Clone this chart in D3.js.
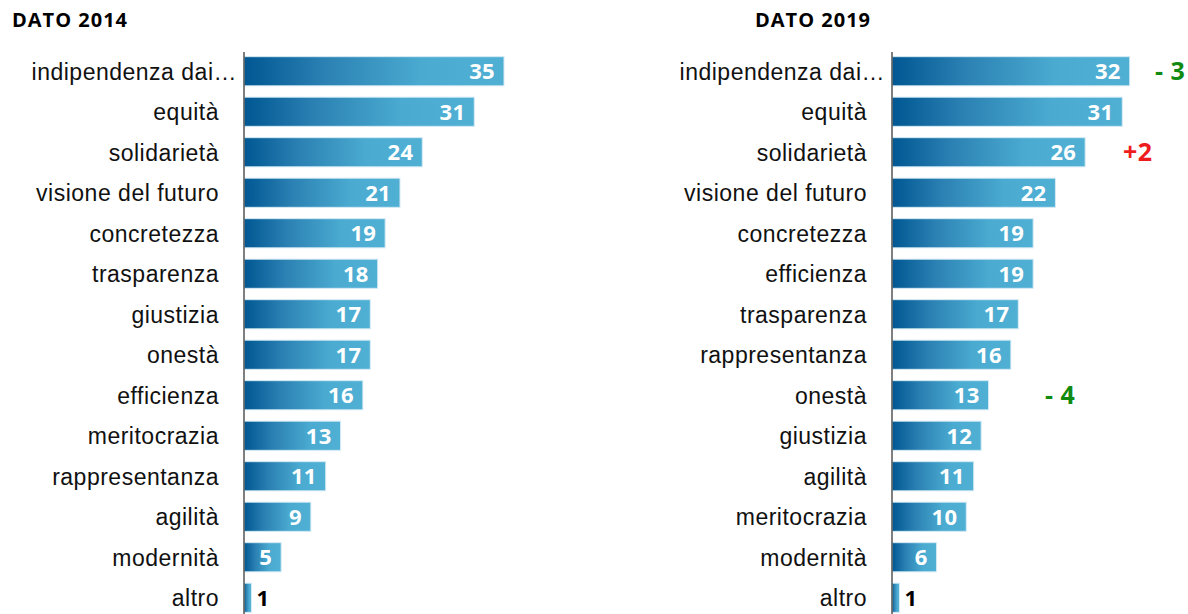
<!DOCTYPE html>
<html>
<head>
<meta charset="utf-8">
<script src="https://cdn.jsdelivr.net/npm/d3@7"></script>
<style>
  body { margin: 0; background: #fff; }
  svg { display: block; font-family: "Open Sans", Lato, sans-serif; }
  .title { font-weight: bold; font-size: 20px; letter-spacing: 1px; fill: #000; }
  .axis text { font-size: 23px; letter-spacing: 0.5px; fill: #111; }
  .axis path { stroke: #555; stroke-width: 1.5; }
  .value { font-weight: bold; font-size: 22px; letter-spacing: 0.3px; }
  .delta { font-weight: bold; font-size: 25px; letter-spacing: 0.5px; }
</style>
</head>
<body>
<div id="vis"></div>
<script>
// data
var labels2014 = ['indipendenza dai…', 'equità', 'solidarietà', 'visione del futuro', 'concretezza',
  'trasparenza', 'giustizia', 'onestà', 'efficienza', 'meritocrazia', 'rappresentanza',
  'agilità', 'modernità', 'altro'];
var values2014 = [35, 31, 24, 21, 19, 18, 17, 17, 16, 13, 11, 9, 5, 1];

var labels2019 = ['indipendenza dai…', 'equità', 'solidarietà', 'visione del futuro', 'concretezza',
  'efficienza', 'trasparenza', 'rappresentanza', 'onestà', 'giustizia', 'agilità',
  'meritocrazia', 'modernità', 'altro'];
var values2019 = [32, 31, 26, 22, 19, 19, 17, 16, 13, 12, 11, 10, 6, 1];

// change notes on the 2019 panel (row, text, position in value units)
var deltaRows = [0, 2, 8];
var deltaTexts = ['- 3', '+2', '- 4'];
var deltaAt = [35.4, 31.1, 20.6];
var deltaColors = ['#118a11', '#ee1c1c', '#118a11'];

var width = 1188;
var height = 614;

var svg = d3.select('#vis')
  .append('svg')
  .attr('width', width)
  .attr('height', height);

// bar gradient, per bar
var grad = svg.append('defs').append('linearGradient')
  .attr('id', 'barGrad')
  .attr('x1', 0).attr('x2', 1).attr('y1', 0).attr('y2', 0);
grad.append('stop').attr('offset', '0%').attr('stop-color', '#005792');
grad.append('stop').attr('offset', '30%').attr('stop-color', '#2a80b2');
grad.append('stop').attr('offset', '68%').attr('stop-color', '#4aaad0');
grad.append('stop').attr('offset', '100%').attr('stop-color', '#50b0d4');

var x = d3.scaleLinear().domain([0, 35]).range([0, 260]);

var y = d3.scaleBand()
  .domain(d3.range(14))
  .range([51, 618])
  .paddingInner(0.28)
  .paddingOuter(0.14);

function panel(x0, title, titleX, labels, values) {
  var g = svg.append('g').attr('transform', 'translate(' + x0 + ',0)');

  svg.append('text')
    .attr('class', 'title')
    .attr('x', titleX)
    .attr('y', 27)
    .text(title);

  var rows = values.map(function (v, i) { return { i: i, label: labels[i], value: v }; });

  g.selectAll('.bar')
    .data(rows)
    .enter().append('rect')
    .attr('class', 'bar')
    .attr('x', 0)
    .attr('y', function (d) { return y(d.i); })
    .attr('width', function (d) { return x(d.value); })
    .attr('height', y.bandwidth())
    .attr('fill', 'url(#barGrad)')
    .attr('stroke', '#d6ebf5')
    .attr('stroke-width', 1);

  g.selectAll('.value')
    .data(rows)
    .enter().append('text')
    .attr('class', 'value')
    .attr('x', function (d) { return d.value > 2 ? x(d.value) - 9 : x(d.value) + 5; })
    .attr('y', function (d) { return y(d.i) + y.bandwidth() / 2; })
    .attr('dy', '0.36em')
    .attr('text-anchor', function (d) { return d.value > 2 ? 'end' : 'start'; })
    .attr('fill', function (d) { return d.value > 2 ? '#fff' : '#000'; })
    .text(function (d) { return d.value; });

  var axis = g.append('g')
    .attr('class', 'axis')
    .call(d3.axisLeft(y)
      .tickSize(0)
      .tickPadding(25)
      .tickFormat(function (i) { return labels[i]; }));
  axis.select('.domain').attr('d', 'M0,' + (y.range()[0] + 1) + 'V' + height);
  axis.selectAll('text')
    .attr('font-family', null)
    .attr('font-size', null)
    .attr('dy', '0.36em')
    .filter(function (i) { return /…$/.test(labels[i]); })
    .attr('x', -7);

  return g;
}

panel(244, 'DATO 2014', 12, labels2014, values2014);
var right = panel(892, 'DATO 2019', 755, labels2019, values2019);

right.selectAll('.delta')
  .data(deltaRows)
  .enter().append('text')
  .attr('class', 'delta')
  .attr('x', function (r, k) { return x(deltaAt[k]); })
  .attr('y', function (r) { return y(r) + y.bandwidth() / 2; })
  .attr('dy', '0.36em')
  .attr('fill', function (r, k) { return deltaColors[k]; })
  .text(function (r, k) { return deltaTexts[k]; });
</script>
</body>
</html>
